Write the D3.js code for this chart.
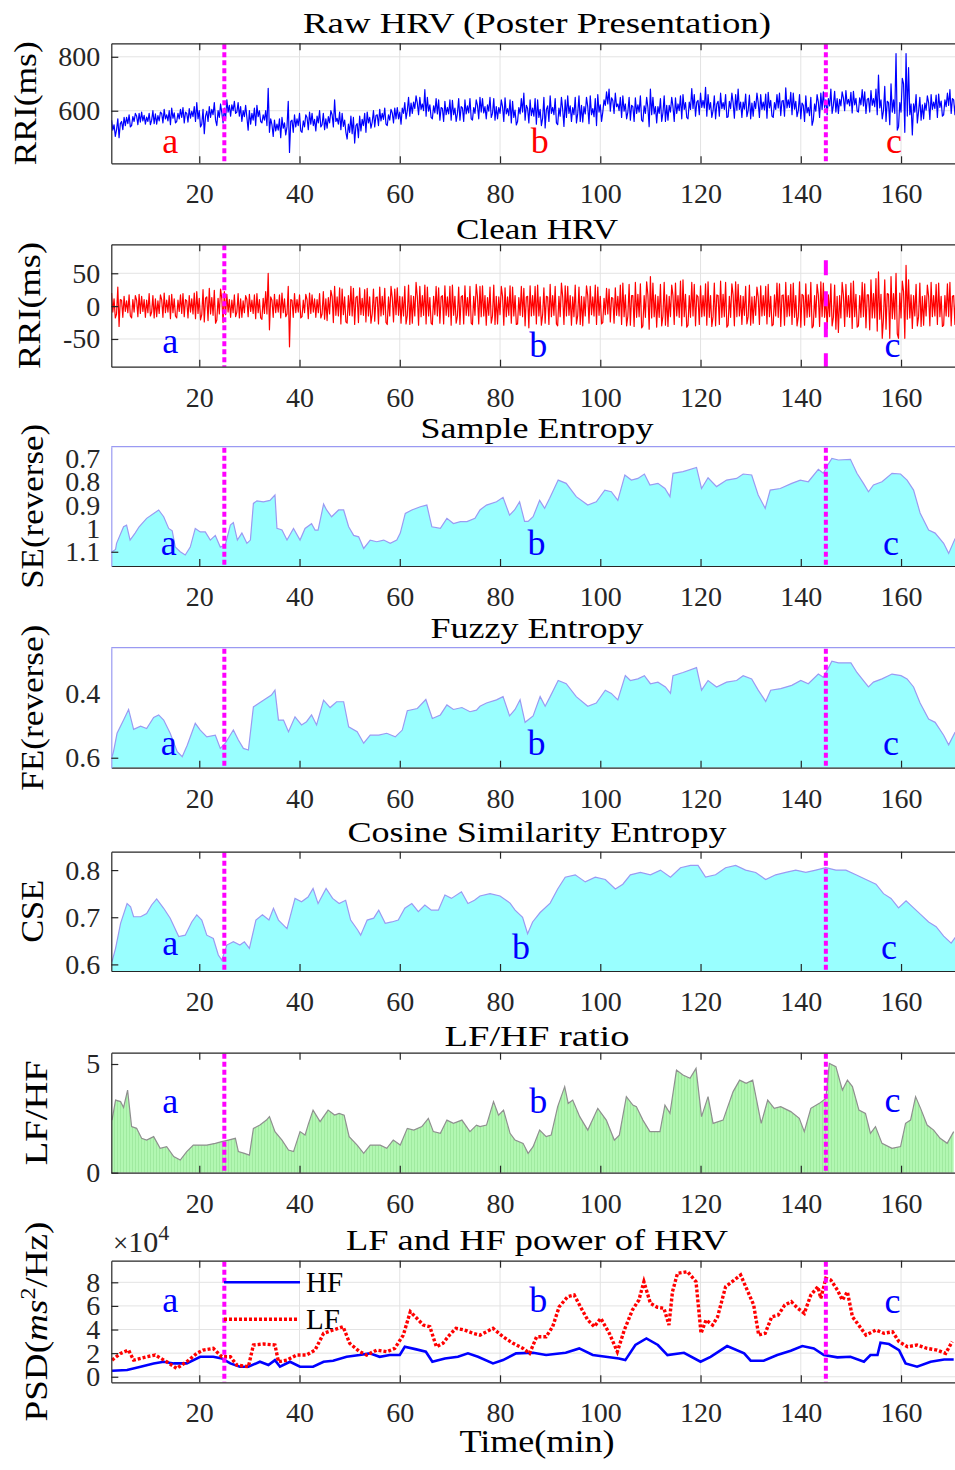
<!DOCTYPE html>
<html>
<head>
<meta charset="utf-8">
<script src="https://cdn.jsdelivr.net/npm/d3@7"></script>
<style>
  body { margin: 0; background: #fff; }
  svg text { font-family: "Liberation Serif", serif; }
</style>
</head>
<body>
<div id="chart"></div>
<script>
// ---- data ----
const xTicks = [20, 40, 60, 80, 100, 120, 140, 160];
const markerTimes = [25, 145];
const letters = ['a', 'b', 'c'];

// noisy RR series: one row per minute starting at 2.5 min,
// four samples a quarter minute apart
const noiseStart = 2.5;
const rawHRV = [
  [565,528,548,505],[530,570,500,552],[560,530,575,545],[575,552,585,540],[545,578,560,590],
  [580,548,590,558],[595,562,583,550],[576,560,590,548],[565,600,552,588],[550,582,562,595],
  [590,555,605,570],[585,562,600,548],[610,572,592,555],[560,590,570,605],[575,612,555,595],
  [590,558,608,572],[598,578,615,560],[630,570,600,540],[550,605,515,580],[598,560,615,575],
  [605,585,630,565],[545,600,575,625],[592,555,610,570],[640,595,620,580],[622,600,635,590],
  [595,630,580,615],[560,600,578,620],[575,528,600,550],[590,565,610,545],[620,578,600,560],
  [555,585,565,600],[545,683,520,570],[548,505,565,525],[550,528,570,500],[575,535,555,510],
  [540,635,445,560],[565,520,585,540],[570,545,590,525],[520,562,540,585],[575,530,595,550],
  [590,545,568,525],[580,555,600,540],[548,590,530,570],[535,578,555,600],[585,540,640,560],
  [572,550,595,530],[590,542,565,520],[495,550,520,580],[515,575,480,545],[552,500,580,525],
  [568,545,590,520],[595,555,575,535],[558,600,540,582],[585,545,605,562],[590,568,610,550],
  [545,585,565,605],[592,555,610,570],[612,570,595,550],[610,590,630,570],[600,650,580,628],
  [590,632,608,655],[628,585,650,605],[625,600,678,580],[650,598,622,575],[570,618,592,645],
  [588,640,565,612],[608,560,635,585],[612,588,640,565],[638,585,610,560],[590,645,565,615],
  [610,560,640,588],[618,592,645,570],[565,612,590,640],[620,570,650,595],[645,592,615,570],
  [622,598,650,575],[590,645,565,615],[570,612,590,640],[615,560,648,588],[608,582,640,555],
  [635,575,602,547],[560,612,588,645],[595,665,565,620],[608,555,640,582],[610,580,645,550],
  [640,575,605,545],[572,650,536,605],[618,560,655,590],[612,585,645,555],[548,610,580,650],
  [605,542,640,575],[655,590,618,560],[612,585,650,555],[590,655,560,620],[558,615,588,650],
  [615,552,655,585],[608,578,645,545],[660,595,622,560],[595,640,620,670],[625,680,598,648],
  [638,590,665,615],[625,600,650,575],[655,598,625,570],[595,650,565,620],[615,560,648,590],
  [622,595,655,565],[560,618,590,650],[612,541,680,585],[650,588,615,555],[615,590,645,560],
  [592,655,560,620],[565,620,595,650],[615,560,648,590],[625,600,655,570],[660,605,630,575],
  [570,632,605,682],[608,660,580,632],[638,585,665,612],[638,610,687,580],[660,605,630,575],
  [600,655,570,625],[635,580,665,608],[630,605,660,575],[578,635,608,665],[630,572,660,602],
  [680,605,632,575],[632,606,662,578],[600,658,570,628],[580,635,608,665],[630,575,660,605],
  [632,603,662,572],[668,610,638,580],[575,630,605,660],[610,665,582,636],[638,580,685,610],
  [640,612,668,585],[665,606,635,578],[600,660,570,628],[620,560,655,592],[612,582,650,546],
  [565,625,598,660],[632,575,665,605],[670,612,640,585],[645,618,680,590],[620,672,595,645],
  [590,642,618,670],[648,600,675,625],[642,618,668,592],[672,622,646,598],[595,648,622,678],
  [618,670,590,642],[646,595,675,620],[645,615,680,585],[732,610,640,570],[600,690,560,635],
  [630,548,700,595],[640,590,812,528],[540,630,595,720],[700,520,812,580],[760,585,625,510],
  [625,595,660,555],[598,650,565,622],[570,628,602,655],[630,568,660,605],[632,608,658,575],
  [662,612,636,580],[585,640,615,665],[620,678,590,645],[640,585,660,615]
];
const cleanHRV = [
  [20,-9,11,-18],[-12,29,-31,10],[9,-17,15,-8],[8,-10,17,-15],[-18,10,-9,16],
  [9,-16,18,-11],[15,-8,10,-17],[9,-10,19,-15],[-9,16,-18,11],[-16,8,-11,17],
  [10,-17,20,-10],[9,-9,16,-19],[18,-10,11,-15],[-18,9,-8,17],[-11,19,-16,10],
  [8,-18,16,-9],[11,-12,20,-19],[22,-11,12,-21],[-13,25,-24,12],[14,-22,27,-12],
  [13,-14,24,-26],[-21,12,-12,26],[11,-25,22,-13],[18,-9,10,-17],[9,-10,17,-16],
  [-9,19,-18,11],[-17,8,-10,16],[10,-16,18,-8],[9,-11,17,-19],[19,-10,10,-18],
  [-20,12,-11,22],[-12,50,-36,14],[9,-17,18,-10],[10,-9,17,-18],[20,-10,11,-16],
  [-12,30,-62,10],[9,-17,19,-10],[10,-9,17,-18],[-16,9,-10,18],[10,-19,20,-11],
  [17,-9,11,-17],[10,-10,19,-18],[-12,22,-20,11],[-22,13,-12,24],[15,-25,30,-14],
  [14,-15,28,-27],[26,-13,14,-24],[-26,16,-14,30],[-15,27,-28,13],[15,-25,28,-13],
  [12,-14,25,-24],[27,-15,14,-26],[-12,26,-23,13],[14,-27,29,-15],[15,-13,27,-25],
  [-28,14,-15,30],[13,-24,26,-13],[28,-14,15,-26],[14,-15,30,-27],[-14,32,-28,16],
  [-26,15,-15,36],[14,-29,30,-16],[16,-14,32,-27],[29,-15,13,-26],[-28,15,-13,30],
  [-15,28,-26,14],[16,-27,31,-14],[14,-16,30,-29],[32,-14,15,-26],[-15,29,-28,14],
  [16,-27,31,-14],[13,-15,30,-26],[-28,15,-14,33],[14,-27,30,-16],[31,-15,16,-29],
  [13,-14,29,-26],[-15,32,-28,15],[-27,14,-13,30],[15,-29,28,-16],[14,-14,31,-26],
  [29,-15,16,-28],[-27,13,-14,30],[-16,27,-30,14],[15,-33,31,-15],[16,-14,30,-27],
  [32,-15,14,-29],[-13,28,-26,15],[14,-28,33,-16],[16,-14,30,-27],[-30,15,-16,35],
  [14,-28,31,-15],[30,-14,16,-29],[14,-16,32,-27],[-14,29,-28,15],[-30,14,-15,31],
  [16,-26,30,-13],[14,-15,32,-28],[29,-14,15,-27],[-25,12,-13,27],[-12,26,-24,13],
  [12,-26,28,-14],[15,-15,32,-28],[35,-16,17,-30],[-15,33,-29,16],[16,-31,36,-17],
  [18,-16,34,-33],[-30,16,-17,37],[17,-35,45,-18],[35,-16,17,-32],[15,-17,33,-30],
  [-15,36,-29,17],[-31,15,-16,32],[16,-28,35,-15],[16,-17,38,-30],[40,-16,18,-32],
  [-29,16,-17,36],[-15,33,-30,17],[14,-28,31,-16],[16,-15,34,-29],[37,-17,16,-31],
  [-16,35,-30,17],[16,-28,38,-17],[18,-16,36,-32],[-29,15,-17,34],[17,-30,37,-16],
  [33,-15,16,-28],[15,-14,30,-27],[-16,32,-29,14],[-26,15,-14,29],[14,-28,31,-15],
  [16,-14,30,-27],[33,-16,15,-30],[-28,17,-15,35],[-17,34,-31,16],[17,-29,36,-16],
  [16,-15,33,-28],[35,-17,16,-30],[-16,37,-32,18],[16,-29,34,-17],[17,-16,36,-33],
  [-30,16,-17,33],[17,-31,37,-16],[35,-17,16,-34],[17,-16,34,-30],[-17,32,-35,15],
  [-40,16,-18,36],[17,-31,33,-16],[16,-17,35,-34],[38,-16,18,-32],[-30,16,-17,36],
  [-16,34,-33,17],[17,-36,40,-18],[19,-18,42,-38],[52,-20,18,-49],[-18,40,-35,19],
  [18,-49,45,-19],[19,-20,50,-42],[-49,20,-18,38],[22,-49,62,-20],[40,-18,17,-34],
  [16,-15,33,-30],[-16,35,-31,15],[-29,16,-15,32],[15,-30,36,-16],[16,-15,33,-28],
  [35,-16,15,-31],[-29,16,-15,34],[-16,36,-30,15],[16,-28,33,-15]
];

// smooth series: [minute, value]
const sampleEntropy = [
  [2.6,1.10],[3.3,1.09],[3.5,1.064],[4.9,0.993],[5.5,0.986],[6.2,1.05],[7.2,1.02],[8.0,0.993],[9.5,0.957],[10.9,0.936],
  [11.9,0.921],[12.9,0.95],[13.9,1.0],[14.6,1.01],[15.2,1.079],[16.2,1.10],[17.2,1.114],[18.2,1.08],[19.2,1.0],[20.2,1.015],
  [21.2,1.015],[22.2,1.05],[23.2,1.03],[24.2,1.08],[25.2,1.07],[26.2,0.986],[26.8,0.975],[27.6,1.05],[28.5,1.02],[29.5,1.064],
  [30.2,1.05],[30.8,0.893],[31.5,0.882],[32.8,0.886],[34.1,0.88],[35.1,0.857],[35.5,1.0],[36.5,1.007],[37.5,1.05],[38.8,1.0],
  [40.1,1.05],[41.1,1.0],[42.4,0.98],[43.1,1.007],[43.7,1.007],[44.8,0.896],[45.4,0.921],[46.4,0.95],[47.8,0.921],[48.8,0.921],
  [49.8,0.993],[50.8,1.03],[51.8,1.036],[52.8,1.086],[54.1,1.05],[55.4,1.057],[56.8,1.05],[58.1,1.064],[59.4,1.05],[60.1,1.02],
  [61.1,0.936],[62.4,0.921],[64.1,0.907],[65.4,0.90],[66.4,0.993],[68.1,1.0],[69.4,0.957],[70.7,0.979],[72.1,0.971],[73.4,0.971],
  [75.0,0.957],[76.0,0.921],[77.3,0.90],[79.3,0.886],[80.6,0.867],[81.9,0.943],[82.9,0.921],[83.9,0.886],[84.9,0.97],[85.6,0.97],
  [86.6,0.95],[87.9,0.88],[88.9,0.914],[89.9,0.871],[91.6,0.793],[93.2,0.807],[95.2,0.864],[97.5,0.90],[99.2,0.886],[100.9,0.836],
  [102.2,0.843],[103.5,0.88],[104.9,0.771],[106.2,0.793],[107.5,0.786],[108.8,0.767],[109.9,0.814],[111.5,0.807],[112.9,0.829],[113.9,0.864],
  [114.5,0.764],[116.5,0.757],[119.2,0.739],[120.2,0.829],[121.5,0.783],[123.2,0.821],[125.2,0.793],[127.2,0.786],[128.5,0.767],[130.2,0.771],
  [131.5,0.857],[132.9,0.914],[133.9,0.836],[135.9,0.829],[138.2,0.807],[139.9,0.793],[141.5,0.80],[143.5,0.747],[144.5,0.764],[145.2,0.735],
  [146.2,0.70],[147.5,0.707],[149.9,0.704],[151.2,0.764],[152.5,0.807],[153.5,0.843],[154.5,0.814],[156.2,0.80],[158.2,0.764],[159.9,0.767],
  [161.2,0.793],[162.5,0.836],[163.8,0.934],[165.5,1.007],[166.8,1.02],[168.5,1.064],[169.5,1.107],[170.8,1.043]
];
const fuzzyEntropy = [
  [2.6,0.597],[2.9,0.58],[3.6,0.524],[4.9,0.483],[5.9,0.45],[6.9,0.512],[8.3,0.502],[9.5,0.509],[10.9,0.475],[11.9,0.467],
  [12.9,0.483],[14.2,0.524],[15.6,0.581],[16.6,0.597],[17.6,0.561],[19.2,0.493],[20.2,0.514],[21.5,0.535],[23.2,0.53],[24.2,0.571],
  [25.2,0.555],[26.8,0.514],[27.8,0.545],[28.8,0.571],[29.8,0.576],[30.8,0.442],[32.8,0.421],[34.4,0.405],[35.1,0.39],[35.8,0.483],
  [36.8,0.483],[37.8,0.519],[39.1,0.473],[40.4,0.498],[41.4,0.488],[42.4,0.467],[43.4,0.498],[44.8,0.421],[46.1,0.444],[47.4,0.426],
  [48.8,0.426],[49.8,0.504],[51.5,0.519],[52.8,0.555],[54.1,0.53],[55.8,0.53],[57.4,0.524],[59.1,0.535],[60.5,0.514],[61.5,0.454],
  [63.5,0.447],[65.2,0.419],[66.5,0.478],[68.1,0.467],[69.4,0.436],[70.7,0.45],[72.4,0.444],[74.0,0.457],[75.3,0.452],[76.0,0.44],
  [77.3,0.43],[79.3,0.42],[80.6,0.41],[81.9,0.47],[83.0,0.45],[84.0,0.42],[85.0,0.49],[86.6,0.47],[88.0,0.41],[89.0,0.44],
  [90.0,0.41],[91.6,0.36],[93.2,0.37],[95.2,0.41],[97.5,0.44],[99.2,0.43],[101.0,0.39],[102.2,0.40],[103.5,0.42],[105.0,0.345],
  [106.0,0.36],[107.5,0.355],[108.8,0.345],[110.0,0.37],[111.5,0.365],[113.0,0.38],[114.0,0.40],[114.5,0.345],[116.5,0.335],[119.2,0.32],
  [120.2,0.39],[121.5,0.36],[123.2,0.38],[125.2,0.365],[127.2,0.36],[128.5,0.345],[130.2,0.355],[131.5,0.39],[133.0,0.425],[134.0,0.39],
  [136.0,0.385],[138.2,0.375],[140.0,0.36],[141.5,0.37],[143.5,0.34],[144.5,0.35],[145.2,0.33],[146.2,0.30],[147.5,0.305],[150.0,0.305],
  [151.2,0.335],[152.5,0.36],[153.5,0.38],[154.5,0.365],[156.2,0.355],[158.2,0.34],[160.0,0.345],[161.2,0.355],[162.5,0.38],[163.8,0.43],
  [165.5,0.48],[166.8,0.49],[168.5,0.53],[169.5,0.56],[170.8,0.52]
];
const cosineEntropy = [
  [2.6,0.606],[3.3,0.634],[4.3,0.687],[5.6,0.729],[6.3,0.722],[6.9,0.701],[8.3,0.701],[9.5,0.708],[10.5,0.726],[11.5,0.739],
  [12.9,0.719],[14.2,0.698],[15.9,0.659],[17.2,0.662],[18.5,0.69],[19.5,0.705],[20.5,0.694],[21.5,0.662],[22.8,0.655],[23.8,0.62],
  [24.5,0.609],[25.5,0.641],[26.8,0.648],[28.1,0.641],[29.0,0.648],[30.0,0.634],[31.3,0.694],[32.6,0.705],[33.9,0.694],[34.8,0.719],
  [35.8,0.694],[37.5,0.676],[39.1,0.74],[40.4,0.733],[41.7,0.743],[42.7,0.761],[43.7,0.729],[45.3,0.761],[46.6,0.74],[47.9,0.729],
  [49.2,0.736],[50.2,0.694],[51.6,0.673],[52.2,0.662],[53.5,0.694],[54.8,0.698],[55.8,0.715],[57.1,0.687],[58.4,0.69],[59.7,0.694],
  [61.0,0.719],[62.4,0.729],[63.7,0.712],[65.0,0.726],[66.3,0.715],[67.7,0.715],[69.0,0.747],[70.3,0.74],[72.3,0.754],[73.6,0.729],
  [74.9,0.736],[76.0,0.745],[78.0,0.75],[80.0,0.745],[82.0,0.73],[83.0,0.715],[84.5,0.70],[85.5,0.665],[86.5,0.69],[88.0,0.71],
  [90.0,0.73],[91.5,0.76],[93.0,0.785],[95.0,0.79],[97.0,0.775],[99.0,0.785],[101.0,0.78],[103.0,0.76],[104.5,0.77],[106.0,0.79],
  [108.0,0.795],[110.0,0.79],[112.0,0.80],[114.0,0.785],[116.0,0.805],[118.0,0.81],[119.5,0.81],[121.0,0.785],[123.0,0.79],[125.0,0.805],
  [127.0,0.81],[129.0,0.80],[131.0,0.795],[133.0,0.78],[135.0,0.79],[137.0,0.795],[139.0,0.80],[141.0,0.795],[143.0,0.80],[145.0,0.805],
  [147.0,0.80],[149.0,0.80],[151.0,0.79],[153.0,0.78],[155.0,0.77],[156.5,0.75],[158.0,0.74],[159.5,0.72],[161.0,0.735],[162.5,0.72],
  [164.0,0.705],[165.5,0.69],[167.0,0.68],[168.5,0.66],[170.0,0.645],[171.0,0.66]
];
const lfhfRatio = [
  [2.6,2.42],[3.3,3.34],[4.3,3.27],[4.9,3.0],[5.7,3.8],[6.5,2.12],[7.5,2.04],[8.5,1.58],[9.5,1.5],[10.9,1.66],
  [12.2,1.12],[13.5,1.2],[14.9,0.74],[16.2,0.58],[17.5,0.97],[18.8,1.27],[20.2,1.27],[21.5,1.27],[23.2,1.35],[24.5,1.43],
  [25.8,1.5],[27.2,1.58],[27.8,0.97],[29.0,0.89],[30.0,0.81],[30.8,2.04],[32.1,2.19],[33.4,2.42],[34.0,2.58],[35.1,1.89],
  [36.5,1.5],[37.8,1.04],[38.8,0.97],[40.1,1.89],[41.1,1.73],[41.7,2.19],[42.7,2.88],[44.1,2.35],[45.7,2.88],[47.0,2.65],
  [47.9,2.73],[48.9,2.65],[49.9,1.66],[51.5,1.27],[52.8,0.89],[54.1,1.27],[56.1,1.27],[57.4,1.12],[58.7,1.5],[60.1,1.27],
  [61.5,2.04],[62.8,1.96],[64.4,2.12],[65.7,2.5],[66.7,1.89],[68.1,1.81],[69.4,2.42],[70.7,2.27],[72.4,2.42],[74.0,1.89],
  [75.3,2.19],[76.0,2.12],[77.3,2.19],[78.7,3.27],[79.7,2.65],[80.7,2.88],[82.0,1.81],[83.0,1.5],[84.6,1.35],[85.6,0.89],
  [86.6,1.2],[87.9,1.96],[89.2,1.66],[90.2,1.73],[91.5,3.04],[92.9,3.96],[93.6,3.19],[94.5,3.34],[95.9,2.58],[97.5,1.96],
  [99.5,2.96],[101.2,2.42],[102.8,1.5],[103.8,1.73],[105.2,3.5],[106.5,3.11],[107.2,3.04],[108.5,2.42],[109.9,1.89],[111.9,1.89],
  [112.9,3.11],[113.9,2.73],[115.2,4.72],[116.5,4.49],[117.9,4.34],[119.1,4.8],[120.2,2.58],[121.5,3.5],[122.5,2.27],[124.5,2.42],
  [126.5,3.73],[127.8,4.26],[129.1,4.11],[130.4,4.26],[132.1,2.27],[133.4,3.34],[134.7,2.96],[136.0,3.04],[138.0,2.81],[139.7,2.5],
  [140.7,1.89],[142.0,2.96],[143.7,3.19],[145.0,3.42],[145.7,5.03],[147.0,4.88],[148.3,3.8],[149.3,4.26],[150.3,3.96],[151.6,2.88],
  [152.9,2.73],[153.9,1.81],[154.9,2.12],[156.2,1.35],[158.2,1.12],[159.9,1.2],[160.9,2.27],[161.9,2.42],[162.9,3.5],[163.9,2.96],
  [165.2,2.19],[166.5,1.96],[167.8,1.58],[169.2,1.35],[170.5,1.89]
];
// PSD in units of 1e4 ms^2/Hz
const hfPower = [
  [2.6,0.51],[5.6,0.57],[8.3,0.85],[10.9,1.13],[12.9,1.27],[14.9,1.13],[17.5,1.13],[20.2,1.69],[22.8,1.69],[24.5,1.55],
  [26.2,1.13],[28.1,0.85],[29.8,0.85],[32.1,1.27],[33.8,0.99],[35.1,1.41],[36.1,0.85],[38.1,1.27],[40.1,0.85],[42.7,0.85],
  [44.8,1.27],[46.7,1.36],[49.4,1.69],[52.0,1.84],[54.0,1.98],[56.0,1.69],[58.0,1.84],[60.0,1.84],[61.0,2.54],[63.3,2.32],
  [65.2,2.12],[66.5,1.27],[69.0,1.55],[71.6,1.69],[73.6,1.98],[75.6,1.69],[78.6,1.13],[80.6,1.41],[83.2,1.98],[86.6,2.03],
  [89.2,1.84],[93.1,2.03],[95.8,2.4],[98.5,1.84],[101.1,1.69],[103.7,1.55],[105.0,1.41],[107.0,2.69],[109.2,3.25],[111.5,2.69],
  [113.4,1.84],[116.7,2.03],[120.0,1.27],[122.0,1.69],[125.3,2.6],[128.7,1.98],[130.0,1.36],[132.6,1.36],[135.3,1.84],[138.0,2.2],
  [140.3,2.6],[142.6,2.4],[144.6,1.84],[147.3,1.64],[149.9,1.69],[152.6,1.27],[153.9,1.84],[155.3,1.84],[155.9,2.88],[157.6,2.77],
  [159.6,2.26],[160.9,1.13],[163.2,0.85],[165.9,1.27],[168.6,1.46],[170.5,1.46]
];
const lfPower = [
  [2.6,1.41],[4.3,1.98],[5.9,2.26],[6.9,1.41],[9.5,1.69],[11.2,1.84],[13.5,1.27],[15.5,0.71],[17.5,1.27],[19.5,1.98],
  [20.8,2.26],[22.8,2.4],[24.5,1.69],[26.2,1.69],[27.5,0.99],[29.8,0.85],[30.8,2.69],[32.8,2.77],[35.1,2.69],[35.8,1.27],
  [37.5,1.41],[39.4,1.84],[41.4,1.84],[43.1,2.26],[44.8,3.68],[46.7,3.96],[48.7,4.24],[50.0,2.83],[52.0,2.12],[53.4,1.84],
  [55.4,2.26],[57.4,2.12],[59.0,2.4],[60.7,3.53],[62.1,5.51],[63.4,4.95],[64.7,4.38],[66.0,4.24],[67.3,2.54],[68.6,2.83],
  [69.9,3.53],[71.2,4.1],[72.9,3.96],[74.6,3.68],[76.0,3.53],[78.6,4.1],[80.6,3.39],[82.6,2.83],[84.6,2.4],[85.9,1.98],
  [87.3,3.39],[89.2,3.39],[90.5,4.24],[91.8,5.93],[93.5,6.78],[94.8,6.92],[96.2,5.8],[97.5,4.81],[98.8,4.24],[100.1,4.95],
  [101.8,3.68],[103.4,2.12],[104.8,3.96],[106.4,5.65],[107.7,6.5],[108.7,8.05],[110.0,6.22],[111.4,5.88],[112.7,5.8],[113.7,4.38],
  [114.4,7.2],[115.4,8.76],[117.4,8.9],[119.1,8.05],[120.1,3.68],[121.1,4.81],[122.4,4.38],[123.4,5.08],[125.0,7.63],[126.3,8.05],
  [128.0,8.62],[129.3,7.35],[130.6,6.08],[131.6,3.53],[132.9,3.68],[134.2,5.08],[135.5,5.23],[136.8,6.08],[138.1,6.36],[139.4,5.8],
  [140.7,5.37],[142.0,6.92],[143.4,7.63],[144.0,6.64],[145.0,8.34],[146.0,8.19],[147.3,7.35],[148.3,6.5],[149.3,7.2],[150.3,5.08],
  [151.3,4.52],[153.0,3.53],[155.0,3.96],[156.6,3.68],[158.3,3.81],[159.6,2.97],[161.3,2.54],[163.2,2.69],[165.2,2.4],[167.2,2.26],
  [168.9,1.98],[170.2,2.97]
];

// ---- layout ----
const width = 955, height = 1470;
const plotLeft = 111.3, plotRight = 962.7; // right edge falls just outside the picture
const axisColor = '#262626', gridColor = '#e3e3e3', magenta = '#ff00ff';
const edgePurple = '#9a9af2';

const svg = d3.select('#chart').append('svg')
  .attr('width', width).attr('height', height)
  .style('background', '#fff');

// faint vertical bar texture of the LF/HF fill
const defs = svg.append('defs');
const pat = defs.append('pattern').attr('id', 'bars').attr('patternUnits', 'userSpaceOnUse')
  .attr('width', 3).attr('height', 10);
pat.append('rect').attr('width', 3).attr('height', 10).attr('fill', '#b2f7b2');
pat.append('rect').attr('width', 1).attr('height', 10).attr('fill', '#a0eaa0');

const x = d3.scaleLinear().domain([2.45, 172.3]).range([plotLeft, plotRight]);

function zigzag(rows) {
  const pts = [];
  rows.forEach((row, i) => {
    row.forEach((v, k) => pts.push([noiseStart + i + k * 0.25, v]));
  });
  return pts;
}

const panels = [
  { title: 'Raw HRV (Poster Presentation)', titleY: 33, titleW: 468,
    ylabel: 'RRI(ms)', ylabelX: 36, ylabelW: 124,
    top: 43.3, bottom: 163.3, domain: [405, 850], ticks: [600, 800],
    grid: true, style: 'box', kind: 'noise', data: rawHRV, color: '#0000ff',
    letterColor: '#ff0000', letterT: [14.2, 87.9, 158.6], letterV: [443, 443, 443] },
  { title: 'Clean HRV', titleY: 239, titleW: 162,
    ylabel: 'RRI(ms)', ylabelX: 40, ylabelW: 127,
    top: 244.3, bottom: 366.7, domain: [-92.2, 94.1], ticks: [-50, 0, 50],
    grid: true, style: 'box', kind: 'noise', data: cleanHRV, color: '#ff0000',
    dashedFrom: 70,
    letterColor: '#0000ff', letterT: [14.2, 87.6, 158.3], letterV: [-71, -77, -77] },
  { title: 'Sample Entropy', titleY: 438, titleW: 233,
    ylabel: 'SE(reverse)', ylabelX: 43, ylabelW: 165,
    top: 446.7, bottom: 566, domain: [0.65, 1.161], ticks: [0.7, 0.8, 0.9, 1, 1.1], reversed: true,
    grid: false, style: 'open', kind: 'area', data: sampleEntropy, fill: '#99ffff', edge: edgePurple,
    letterColor: '#0000ff', letterT: [13.9, 87.3, 158], letterV: [1.115, 1.115, 1.115] },
  { title: 'Fuzzy Entropy', titleY: 638, titleW: 213,
    ylabel: 'FE(reverse)', ylabelX: 43, ylabelW: 166,
    top: 647.7, bottom: 767.7, domain: [0.258, 0.631], ticks: [0.4, 0.6], reversed: true,
    grid: false, style: 'open', kind: 'area', data: fuzzyEntropy, fill: '#99ffff', edge: edgePurple,
    letterColor: '#0000ff', letterT: [13.9, 87.3, 158], letterV: [0.592, 0.592, 0.592] },
  { title: 'Cosine Similarity Entropy', titleY: 842, titleW: 379,
    ylabel: 'CSE', ylabelX: 43, ylabelW: 63,
    top: 851.7, bottom: 971, domain: [0.586, 0.839], ticks: [0.6, 0.7, 0.8],
    grid: false, style: 'box', kind: 'area', data: cosineEntropy, fill: '#99ffff', edge: edgePurple,
    letterColor: '#0000ff', letterT: [14.2, 84.2, 157.6], letterV: [0.62, 0.611, 0.611] },
  { title: 'LF/HF ratio', titleY: 1046, titleW: 185,
    ylabel: 'LF/HF', ylabelX: 47, ylabelW: 105,
    top: 1052.7, bottom: 1172.7, domain: [0, 5.52], ticks: [0, 5],
    grid: false, style: 'box', kind: 'area', data: lfhfRatio, fill: 'url(#bars)', edge: '#8f8f8f',
    letterColor: '#0000ff', letterT: [14.2, 87.6, 158.3], letterV: [2.76, 2.73, 2.78] },
  { title: 'LF and HF power of HRV', titleY: 1250, titleW: 382,
    ylabel: 'PSD', ylabelX: 47, ylabelW: 200,
    top: 1260.7, bottom: 1382.3, domain: [-0.47, 9.83], ticks: [0, 2, 4, 6, 8],
    grid: true, style: 'box', kind: 'psd',
    letterColor: '#0000ff', letterT: [14.2, 87.6, 158.3], letterV: [5.5, 5.5, 5.4] }
];

panels.forEach((p, idx) => drawPanel(p, idx));

function drawPanel(p, idx) {
  const y = d3.scaleLinear().domain(p.domain)
    .range(p.reversed ? [p.top, p.bottom] : [p.bottom, p.top]);
  const g = svg.append('g');
  const clipId = 'clip' + idx;
  defs.append('clipPath').attr('id', clipId).append('rect')
    .attr('x', plotLeft).attr('y', p.top)
    .attr('width', plotRight - plotLeft).attr('height', p.bottom - p.top);

  // title
  g.append('text').attr('x', (plotLeft + plotRight) / 2).attr('y', p.titleY)
    .attr('text-anchor', 'middle').attr('font-size', 30).attr('fill', '#000')
    .attr('textLength', p.titleW).attr('lengthAdjust', 'spacingAndGlyphs')
    .text(p.title);

  // grid
  if (p.grid) {
    const grid = g.append('g').attr('stroke', gridColor).attr('stroke-width', 1);
    grid.selectAll('.gx').data(xTicks).join('line')
      .attr('x1', d => x(d)).attr('x2', d => x(d)).attr('y1', p.top).attr('y2', p.bottom);
    grid.selectAll('.gy').data(p.ticks).join('line')
      .attr('x1', plotLeft).attr('x2', plotRight).attr('y1', d => y(d)).attr('y2', d => y(d));
  }

  const plot = g.append('g').attr('clip-path', `url(#${clipId})`);

  if (p.kind === 'noise') {
    plot.append('path').datum(zigzag(p.data))
      .attr('fill', 'none').attr('stroke', p.color).attr('stroke-width', 1.2)
      .attr('stroke-linejoin', 'round')
      .attr('d', d3.line().x(d => x(d[0])).y(d => y(d[1])));
  } else if (p.kind === 'area') {
    plot.append('path').datum(p.data)
      .attr('fill', p.fill).attr('stroke', 'none')
      .attr('d', d3.area().x(d => x(d[0])).y0(p.bottom).y1(d => y(d[1])));
    plot.append('path').datum(p.data)
      .attr('fill', 'none').attr('stroke', p.edge).attr('stroke-width', 1.2)
      .attr('d', d3.line().x(d => x(d[0])).y(d => y(d[1])));
  } else if (p.kind === 'psd') {
    plot.append('path').datum(hfPower)
      .attr('fill', 'none').attr('stroke', '#0000ff').attr('stroke-width', 2.6)
      .attr('d', d3.line().x(d => x(d[0])).y(d => y(d[1])));
    plot.append('path').datum(lfPower)
      .attr('fill', 'none').attr('stroke', '#ff0000').attr('stroke-width', 3.4)
      .attr('stroke-dasharray', '3,2')
      .attr('d', d3.line().x(d => x(d[0])).y(d => y(d[1])));
  }

  // event markers
  markerTimes.forEach((t, i) => {
    const dashed = i === 1 && p.dashedFrom != null;
    g.append('line')
      .attr('x1', x(t)).attr('x2', x(t))
      .attr('y1', dashed ? y(p.dashedFrom) : p.top + 1).attr('y2', p.bottom)
      .attr('stroke', magenta).attr('stroke-width', 4)
      .attr('stroke-dasharray', dashed ? '15,16' : '5,3');
  });

  // a / b / c labels
  letters.forEach((L, i) => {
    g.append('text').attr('x', x(p.letterT[i])).attr('y', y(p.letterV[i]))
      .attr('text-anchor', 'middle').attr('font-size', 36).attr('fill', p.letterColor)
      .text(L);
  });

  // axes
  const bottomAxis = g.append('g').attr('transform', `translate(0,${p.bottom})`)
    .call(d3.axisBottom(x).tickValues(xTicks).tickSizeInner(-7).tickSizeOuter(0).tickPadding(20));
  const leftAxis = g.append('g').attr('transform', `translate(${plotLeft},0)`)
    .call(d3.axisLeft(y).tickValues(p.ticks).tickSizeInner(-7).tickSizeOuter(0).tickPadding(11)
      .tickFormat(d => String(d)));
  [bottomAxis, leftAxis].forEach(a => {
    a.select('.domain').attr('stroke', axisColor).attr('stroke-width', 1.2);
    a.selectAll('.tick line').attr('stroke', axisColor).attr('stroke-width', 1.2);
    a.selectAll('text').attr('font-size', 28).attr('fill', axisColor)
      .attr('font-family', '"Liberation Serif", serif');
  });

  if (p.style === 'box') {
    const topAxis = g.append('g').attr('transform', `translate(0,${p.top})`)
      .call(d3.axisTop(x).tickValues(xTicks).tickSizeInner(-7).tickSizeOuter(0).tickFormat(''));
    topAxis.select('.domain').attr('stroke', axisColor).attr('stroke-width', 1.2);
    topAxis.selectAll('.tick line').attr('stroke', axisColor).attr('stroke-width', 1.2);
  } else {
    // entropy panels: light edge on top and left, only the lowest y tick stays dark
    leftAxis.select('.domain').attr('stroke', edgePurple);
    leftAxis.selectAll('.tick line').attr('stroke', (d, i) => i === p.ticks.length - 1 ? axisColor : 'none');
    g.append('line').attr('x1', plotLeft).attr('x2', plotRight)
      .attr('y1', p.top).attr('y2', p.top).attr('stroke', edgePurple).attr('stroke-width', 1.3);
  }

  // y label
  const yl = g.append('text')
    .attr('transform', `translate(${p.ylabelX},${(p.top + p.bottom) / 2}) rotate(-90)`)
    .attr('text-anchor', 'middle').attr('font-size', 31).attr('fill', '#000')
    .attr('textLength', p.ylabelW).attr('lengthAdjust', 'spacingAndGlyphs');
  if (p.kind === 'psd') {
    yl.append('tspan').text('PSD(');
    yl.append('tspan').attr('font-style', 'italic').text('ms');
    yl.append('tspan').attr('font-size', 20).attr('dy', -12).text('2');
    yl.append('tspan').attr('dy', 12).text('/Hz)');
  } else {
    yl.text(p.ylabel);
  }

  if (p.kind === 'psd') {
    // exponent label
    const ex = g.append('text').attr('x', 113).attr('y', p.top - 9).attr('fill', axisColor).attr('font-size', 30);
    ex.append('tspan').attr('font-size', 27).text('\u00d7');
    ex.append('tspan').text('10');
    ex.append('tspan').attr('font-size', 22).attr('dy', -12).text('4');

    // legend (no frame)
    const leg = [
      { name: 'HF', color: '#0000ff', w: 2.6, dash: null, len: 76, yOff: 21.5 },
      { name: 'LF', color: '#ff0000', w: 3.4, dash: '3,2', len: 73, yOff: 58.5 }
    ];
    leg.forEach(l => {
      g.append('line').attr('x1', 224).attr('x2', 224 + l.len)
        .attr('y1', p.top + l.yOff).attr('y2', p.top + l.yOff)
        .attr('stroke', l.color).attr('stroke-width', l.w)
        .attr('stroke-dasharray', l.dash);
      g.append('text').attr('x', 306).attr('y', p.top + l.yOff + 9.5)
        .attr('font-size', 29).attr('fill', '#000').text(l.name);
    });

    g.append('text').attr('x', (plotLeft + plotRight) / 2).attr('y', 1452)
      .attr('text-anchor', 'middle').attr('font-size', 31).attr('fill', '#000')
      .attr('textLength', 155).attr('lengthAdjust', 'spacingAndGlyphs')
      .text('Time(min)');
  }
}
</script>
</body>
</html>
